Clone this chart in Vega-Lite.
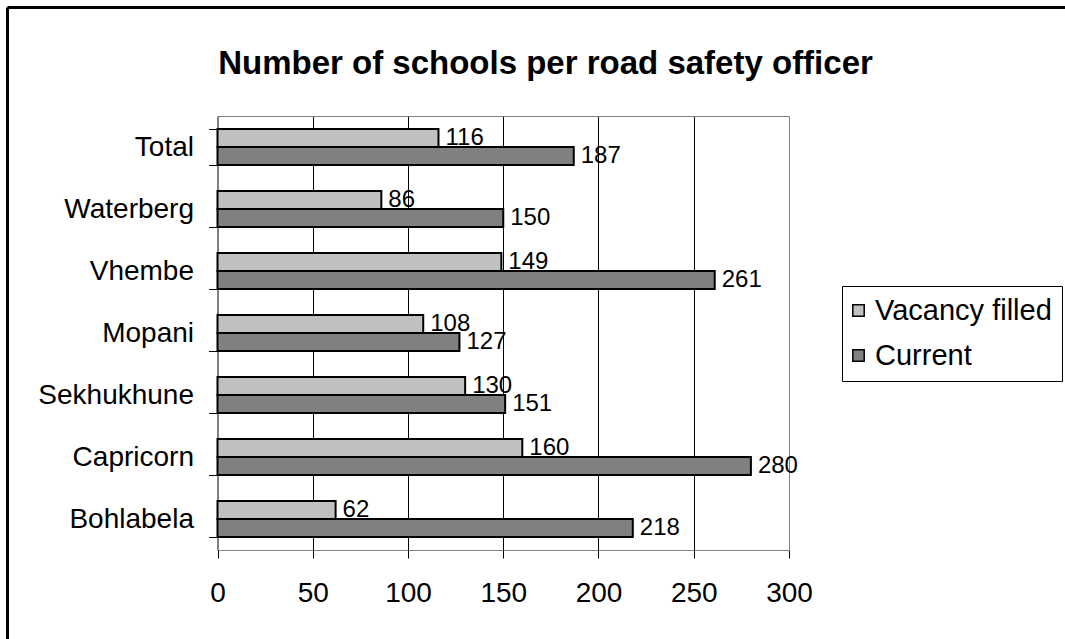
{
  "$schema": "https://vega.github.io/schema/vega-lite/v6.json",
  "width": 1058,
  "height": 632,
  "autosize": {"type": "none"},
  "padding": {"left": 7, "top": 7, "right": 0, "bottom": 0},
  "background": "white",
  "config": {
    "font": "Liberation Sans"
  },
  "view": {"stroke": null, "fill": "white"},
  "title": {
    "text": "Number of schools per road safety officer",
    "fontSize": 33,
    "fontWeight": "bold",
    "color": "black",
    "anchor": "middle",
    "frame": "group",
    "baseline": "alphabetic",
    "offset": -114,
    "dx": 9.5
  },
  "data": {
    "values": [
      {"region": "Total", "series": "Vacancy filled", "value": 116},
      {"region": "Total", "series": "Current", "value": 187},
      {"region": "Waterberg", "series": "Vacancy filled", "value": 86},
      {"region": "Waterberg", "series": "Current", "value": 150},
      {"region": "Vhembe", "series": "Vacancy filled", "value": 149},
      {"region": "Vhembe", "series": "Current", "value": 261},
      {"region": "Mopani", "series": "Vacancy filled", "value": 108},
      {"region": "Mopani", "series": "Current", "value": 127},
      {"region": "Sekhukhune", "series": "Vacancy filled", "value": 130},
      {"region": "Sekhukhune", "series": "Current", "value": 151},
      {"region": "Capricorn", "series": "Vacancy filled", "value": 160},
      {"region": "Capricorn", "series": "Current", "value": 280},
      {"region": "Bohlabela", "series": "Vacancy filled", "value": 62},
      {"region": "Bohlabela", "series": "Current", "value": 218}
    ]
  },
  "resolve": {
    "scale": {"x": "independent", "y": "independent"},
    "axis": {"x": "independent", "y": "independent"}
  },
  "layer": [
    {
      "mark": {"type": "bar", "stroke": "black", "strokeWidth": 2},
      "encoding": {
        "y": {
          "field": "region",
          "type": "nominal",
          "sort": ["Total", "Waterberg", "Vhembe", "Mopani", "Sekhukhune", "Capricorn", "Bohlabela"],
          "scale": {
            "domain": ["Total", "Waterberg", "Vhembe", "Mopani", "Sekhukhune", "Capricorn", "Bohlabela"],
            "range": [109, 543],
            "paddingInner": 0.42,
            "paddingOuter": 0.21
          },
          "axis": {
            "orient": "left",
            "offset": -210.5,
            "title": null,
            "tickBand": "extent",
            "tickSize": 9,
            "tickColor": "black",
            "domainColor": "black",
            "labelFontSize": 28,
            "labelColor": "black",
            "labelPadding": 15,
            "grid": false
          }
        },
        "yOffset": {
          "field": "series",
          "type": "nominal",
          "sort": ["Vacancy filled", "Current"],
          "scale": {"domain": ["Vacancy filled", "Current"], "paddingInner": 0, "paddingOuter": 0}
        },
        "x": {
          "field": "value",
          "type": "quantitative",
          "scale": {"domain": [0, 300], "range": [210.5, 782], "nice": false, "zero": true},
          "axis": {
            "orient": "bottom",
            "offset": -89,
            "title": null,
            "values": [0, 50, 100, 150, 200, 250, 300],
            "tickSize": 8,
            "tickColor": "black",
            "domainColor": "#808080",
            "labelFontSize": 28,
            "labelColor": "black",
            "labelPadding": 21,
            "labelFlush": false,
            "labelOverlap": false,
            "grid": false
          }
        },
        "color": {
          "field": "series",
          "type": "nominal",
          "sort": ["Vacancy filled", "Current"],
          "scale": {"domain": ["Vacancy filled", "Current"], "range": ["#C0C0C0", "#808080"]},
          "legend": {
            "title": null,
            "orient": "none",
            "legendX": 835,
            "legendY": 279,
            "direction": "vertical",
            "strokeColor": "black",
            "fillColor": "white",
            "padding": 10,
            "symbolType": "square",
            "symbolSize": 130,
            "symbolOffset": -8,
            "symbolStrokeColor": "black",
            "symbolStrokeWidth": 1.5,
            "symbolOpacity": 1,
            "labelFontSize": 29,
            "labelColor": "black",
            "labelOffset": 2,
            "rowPadding": 15,
            "labelLimit": 400
          }
        }
      }
    },
    {
      "mark": {"type": "text", "align": "left", "baseline": "middle", "dx": 7, "fontSize": 24, "color": "black"},
      "encoding": {
        "y": {
          "field": "region",
          "type": "nominal",
          "sort": ["Total", "Waterberg", "Vhembe", "Mopani", "Sekhukhune", "Capricorn", "Bohlabela"],
          "scale": {
            "domain": ["Total", "Waterberg", "Vhembe", "Mopani", "Sekhukhune", "Capricorn", "Bohlabela"],
            "range": [109, 543],
            "paddingInner": 0.42,
            "paddingOuter": 0.21
          },
          "axis": null
        },
        "yOffset": {
          "field": "series",
          "type": "nominal",
          "sort": ["Vacancy filled", "Current"],
          "scale": {"domain": ["Vacancy filled", "Current"], "paddingInner": 0, "paddingOuter": 0}
        },
        "x": {
          "field": "value",
          "type": "quantitative",
          "scale": {"domain": [0, 300], "range": [210.5, 782], "nice": false, "zero": true},
          "axis": {
            "orient": "top",
            "offset": -109,
            "title": null,
            "labels": false,
            "ticks": true,
            "values": [50, 100, 150, 200, 250, 300],
            "tickSize": -434,
            "tickColor": {"condition": {"test": "datum.value === 300", "value": "#808080"}, "value": "black"},
            "tickWidth": 1,
            "grid": false,
            "domainColor": "#808080"
          }
        },
        "text": {"field": "value", "type": "quantitative"}
      }
    },
    {
      "mark": {"type": "point", "opacity": 0},
      "encoding": {
        "x": {
          "field": "value",
          "type": "quantitative",
          "axis": {
            "orient": "top",
            "offset": 0,
            "title": null,
            "labels": false,
            "ticks": false,
            "grid": false,
            "domainColor": "black",
            "domainWidth": 3
          }
        },
        "y": {
          "field": "region",
          "type": "nominal",
          "axis": {
            "orient": "left",
            "offset": 0,
            "title": null,
            "labels": false,
            "ticks": false,
            "grid": false,
            "domainColor": "black",
            "domainWidth": 3
          }
        }
      }
    }
  ]
}
